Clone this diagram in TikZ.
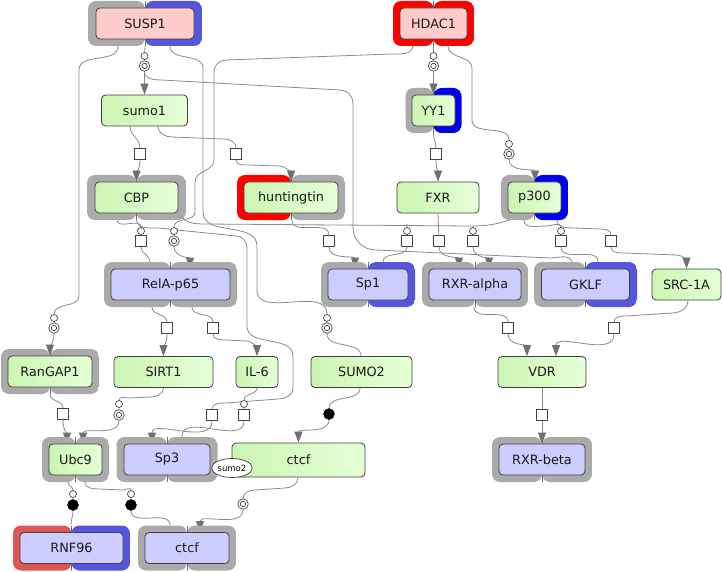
\documentclass[tikz,border=0pt]{standalone}
\usepackage{fontspec}
\setmainfont{DejaVu Sans}
\usetikzlibrary{arrows.meta,backgrounds,shapes.geometric}
\definecolor{cgray}{HTML}{AAAAAA}
\definecolor{cblue}{HTML}{5555DD}
\definecolor{cbblue}{HTML}{0000EE}
\definecolor{cred}{HTML}{FF0000}
\definecolor{crose}{HTML}{DD5555}
\definecolor{cpink}{HTML}{FFCCCC}
\definecolor{clav}{HTML}{CCCCFF}
\definecolor{cgreenA}{HTML}{CCF5B2}
\definecolor{cgreenB}{HTML}{E6FFD8}
\definecolor{cborder}{HTML}{404040}
\definecolor{cline}{HTML}{8A8A8A}
\definecolor{carrow}{HTML}{707070}
\definecolor{csplit}{HTML}{707070}
\definecolor{cglyph}{HTML}{444444}
\tikzset{
  entity/.style={rounded corners=4pt, draw=cborder, line width=0.8pt, minimum height=31pt, inner sep=0pt, font=\fontsize{12.8}{15}\selectfont, text=black!90},
  gnode/.style={entity, left color=cgreenA, right color=cgreenB},
  lnode/.style={entity, fill=clav},
  pnode/.style={entity, fill=cpink},
  cplx/.style 2 args={rounded corners=8pt, minimum height=45pt, inner sep=0pt,
    path picture={
      \fill[#1] (path picture bounding box.south west) rectangle (path picture bounding box.north);
      \fill[#2] (path picture bounding box.south) rectangle (path picture bounding box.north east);
      \draw[csplit, line width=0.8pt] (path picture bounding box.south) -- (path picture bounding box.north);
    }},
  proc/.style={rectangle, draw=cglyph, fill=white, line width=0.7pt, minimum size=11.5pt, inner sep=0pt},
  ocirc/.style={circle, draw=cglyph, fill=white, line width=0.7pt, minimum size=7pt, inner sep=0pt},
  dcirc/.style={circle, draw=cglyph, fill=white, line width=0.7pt, minimum size=10.5pt, inner sep=0pt,
    path picture={\draw[cglyph, line width=0.7pt] (path picture bounding box.center) circle (2.7pt);}},
  bcirc/.style={circle, draw=black, fill=black, minimum size=11pt, inner sep=0pt},
  conn/.style={draw=cline, line width=0.8pt},
  arr/.style={conn, -{Triangle[width=8pt,length=11pt,color=carrow]}},
}
\begin{document}
\begin{tikzpicture}[x=1pt,y=-1pt]
\useasboundingbox (0,0) rectangle (722,572);
% entities
\node[cplx={cgray}{cblue}, minimum width=114pt] (susp1o) at (145,23.5) {};
\node[pnode, minimum width=98pt] (susp1) at (145,23.5) {SUSP1};
\node[cplx={cred}{cred}, minimum width=81pt] (hdac1o) at (433.5,23.5) {};
\node[pnode, minimum width=67pt] (hdac1) at (433.5,23.5) {HDAC1};
\node[gnode, minimum width=86pt] (sumo1) at (144.5,110.5) {sumo1};
\node[cplx={cgray}{cbblue}, minimum width=56pt] (yy1o) at (433.5,110.5) {};
\node[gnode, minimum width=43pt] (yy1) at (433.5,110.5) {YY1};
\node[cplx={cgray}{cgray}, minimum width=99pt] (cbpo) at (136.5,197.5) {};
\node[gnode, minimum width=83pt] (cbp) at (136.5,197.5) {CBP};
\node[cplx={cred}{cgray}, minimum width=108pt] (huntingtino) at (291,197.5) {};
\node[gnode, minimum width=94pt] (huntingtin) at (291,197.5) {huntingtin};
\node[gnode, minimum width=82pt] (fxr) at (438,197.5) {FXR};
\node[cplx={cgray}{cbblue}, minimum width=67pt] (p300o) at (534.5,197.5) {};
\node[gnode, minimum width=53pt] (p300) at (534.5,197.5) {p300};
\node[cplx={cgray}{cgray}, minimum width=133pt] (relapo) at (170.5,284.5) {};
\node[lnode, minimum width=119pt] (relap) at (170.5,284.5) {RelA-p65};
\node[cplx={cgray}{cblue}, minimum width=94pt] (sp1o) at (368,284.5) {};
\node[lnode, minimum width=80pt] (sp1) at (368,284.5) {Sp1};
\node[cplx={cgray}{cgray}, minimum width=106pt] (rxrao) at (475,284.5) {};
\node[lnode, minimum width=92pt] (rxra) at (475,284.5) {RXR-alpha};
\node[cplx={cgray}{cblue}, minimum width=103pt] (gklfo) at (585.5,284.5) {};
\node[lnode, minimum width=88pt] (gklf) at (585.5,284.5) {GKLF};
\node[gnode, minimum width=69pt] (src) at (686.5,284.5) {SRC-1A};
\node[cplx={cgray}{cgray}, minimum width=98pt] (rangapo) at (50,371.5) {};
\node[gnode, minimum width=84pt] (rangap) at (50,371.5) {RanGAP1};
\node[gnode, minimum width=99pt] (sirt1) at (163.5,372) {SIRT1};
\node[gnode, minimum width=42pt] (il6) at (257,372) {IL-6};
\node[gnode, minimum width=101pt] (sumo2) at (361.5,372) {SUMO2};
\node[gnode, minimum width=88pt] (vdr) at (542,372) {VDR};
\node[cplx={cgray}{cgray}, minimum width=67pt] (ubc9o) at (75.5,459.5) {};
\node[gnode, minimum width=53pt] (ubc9) at (75.5,459.5) {Ubc9};
\node[cplx={cgray}{cgray}, minimum width=101pt] (sp3o) at (167,459.5) {};
\node[lnode, minimum width=86pt] (sp3) at (167,459.5) {Sp3};
\node[gnode, minimum width=133pt, minimum height=34pt] (ctcfg) at (298.5,460) {ctcf};
\node[ellipse, draw=cborder, fill=white, line width=0.7pt, minimum width=38pt, minimum height=19pt, inner sep=0pt, font=\fontsize{8.5}{10}\selectfont] (sumo2tag) at (232,468) {sumo2};
\node[cplx={cgray}{cgray}, minimum width=100pt] (rxrbo) at (542,459.5) {};
\node[lnode, minimum width=86pt] (rxrb) at (542,459.5) {RXR-beta};
\node[cplx={crose}{cblue}, minimum width=117pt] (rnf96o) at (71.5,548) {};
\node[lnode, minimum width=103pt] (rnf96) at (71.5,548) {RNF96};
\node[cplx={cgray}{cgray}, minimum width=98pt] (ctcflo) at (187,548) {};
\node[lnode, minimum width=84pt] (ctcfl) at (187,548) {ctcf};
% glyphs
\node[ocirc] (cA) at (144.5,56) {};
\node[dcirc] (dA) at (144.5,66) {};
\node[ocirc] (cC) at (54,318) {};
\node[dcirc] (dC) at (54,328) {};
\node[ocirc] (cD) at (327,318) {};
\node[dcirc] (dD) at (327,328) {};
\node[ocirc] (cE) at (433.5,56) {};
\node[dcirc] (dE) at (433.5,66) {};
\node[ocirc] (cF) at (509,144) {};
\node[dcirc] (dF) at (509,154) {};
\node[ocirc] (cG) at (174,231) {};
\node[dcirc] (dG) at (174,241) {};
\node[proc] (sH) at (140,154) {};
\node[proc] (sI) at (236,154) {};
\node[proc] (sJ) at (436,154) {};
\node[ocirc] (cK) at (141,231) {};
\node[proc] (sK) at (141,241) {};
\node[proc] (sL) at (212,415) {};
\node[ocirc] (cM1) at (407,231) {};
\node[proc] (sM1) at (407,241) {};
\node[ocirc] (cM2) at (473,231) {};
\node[proc] (sM2) at (473,241) {};
\node[ocirc] (cM3) at (561,231) {};
\node[proc] (sM3) at (561,241) {};
\node[proc] (sN) at (329,241) {};
\node[proc] (sO) at (439,241) {};
\node[proc] (sP) at (611,241) {};
\node[proc] (sQ) at (167,328) {};
\node[proc] (sR) at (213,328) {};
\node[proc] (sS) at (508,328) {};
\node[proc] (sT) at (614,328) {};
\node[proc] (sU) at (63,414) {};
\node[ocirc] (cV) at (119,404) {};
\node[dcirc] (dV) at (119,415) {};
\node[ocirc] (cW) at (244,404) {};
\node[proc] (sW) at (244,415) {};
\node[bcirc] (bX) at (329,414) {};
\node[proc] (sY) at (542,415) {};
\node[ocirc] (cZ) at (73,494) {};
\node[bcirc] (bZ) at (73,505) {};
\node[ocirc] (cAA) at (131,494) {};
\node[bcirc] (bAA) at (131,505) {};
\node[dcirc] (dAB) at (243,504) {};
\begin{pgfonlayer}{background}
\fill[white] (0,0) rectangle (722,572);
% SUSP1
\draw[arr] (susp1o.south) -- (cA) -- (dA) -- (sumo1.north);
\draw[conn] (dA) to[out=-90,in=180] (162,80) -- (340,90) to[out=0,in=90] (353,103) -- (353,228) to[out=-90,in=180] (376,250) -- (550,258) to[out=0,in=110] (572,0 |- gklfo.north);
\draw[arr] (118,0 |- susp1o.south) to[out=-90,in=90] (79,70) -- (79,296) to[out=-90,in=90] (cC) -- (dC) to[out=-90,in=90] (50,0 |- rangap.north);
\draw[conn] (170,0 |- susp1o.south) to[out=-90,in=90] (203,68) -- (203,212) to[out=-90,in=90] (257,246) -- (257,290) to[out=-90,in=90] (cD) -- (dD) to[out=-90,in=90] (361,0 |- sumo2.north);
% HDAC1
\draw[arr] (hdac1o.south) -- (cE) -- (dE) -- (yy1.north);
\draw[arr] (448,0 |- hdac1o.south) to[out=-90,in=90] (472,68) -- (472,120) to[out=-90,in=90] (cF) -- (dF) to[out=-90,in=90] (535,0 |- p300.north);
\draw[arr] (413,0 |- hdac1o.south) to[out=-100,in=0] (392,54) -- (226,60) to[out=180,in=90] (214,72) -- (214,160) to[out=-90,in=90] (195,182) -- (195,212) to[out=-90,in=90] (cG) -- (dG) to[out=-90,in=90] (190,0 |- relap.north);
% sumo1
\draw[arr] (130,0 |- sumo1.south) to[out=-90,in=90] (sH) to[out=-90,in=90] (cbp.north);
\draw[arr] (158,0 |- sumo1.south) to[out=-90,in=180] (172,137) -- (224,139) to[out=0,in=90] (sI) to[out=-90,in=180] (249,165) -- (279,166) to[out=0,in=90] (huntingtin.north);
% YY1
\draw[arr] (yy1o.south) to[out=-90,in=90] (sJ) to[out=-90,in=90] (fxr.north);
% CBP
\draw[conn] (117,0 |- cbpo.south) to[out=-90,in=90] (cK) -- (sK) to[out=-90,in=90] (150,0 |- relapo.north);
\draw[arr] (cbpo.south) to[out=-80,in=180] (158,228) -- (236,236) to[out=0,in=90] (247,248) -- (247,326) to[out=-90,in=90] (293,356) -- (293,388) to[out=-90,in=0] (278,399) -- (226,403) to[out=180,in=90] (sL) to[out=-90,in=90] (152,0 |- sp3.north);
\draw[conn] (180,0 |- cbp.south) to[out=-70,in=180] (205,224) -- (470,226) to[out=0,in=200] (512,219);
\draw[conn] (407,224) -- (cM1) -- (sM1) to[out=-90,in=90] (383,0 |- sp1o.north);
\draw[arr] (473,226) -- (cM2) -- (sM2) to[out=-90,in=90] (489,0 |- rxra.north);
% p300
\draw[conn] (524,0 |- p300o.south) to[out=-90,in=180] (546,226) to[out=0,in=90] (cM3) -- (sM3) to[out=-90,in=90] (598,0 |- gklfo.north);
\draw[arr] (557,0 |- p300o.south) to[out=-90,in=180] (574,228) -- (600,229) to[out=0,in=90] (sP) to[out=-90,in=180] (624,253) -- (677,255) to[out=0,in=90] (src.north);
% huntingtin, FXR
\draw[arr] (292,0 |- huntingtino.south) to[out=-90,in=90] (sN) to[out=-90,in=90] (355,0 |- sp1.north);
\draw[arr] (fxr.south) -- (sO) to[out=-90,in=90] (459,0 |- rxra.north);
% RelA-p65
\draw[arr] (152,0 |- relapo.south) to[out=-90,in=90] (sQ) to[out=-90,in=90] (sirt1.north);
\draw[arr] (192,0 |- relapo.south) to[out=-90,in=90] (sR) to[out=-90,in=180] (226,340) -- (246,341) to[out=0,in=90] (il6.north);
% RXR-alpha, SRC-1A
\draw[arr] (474,0 |- rxrao.south) to[out=-90,in=90] (sS) to[out=-90,in=90] (527,0 |- vdr.north);
\draw[arr] (688,0 |- src.south) to[out=-90,in=0] (672,313) -- (626,316) to[out=180,in=90] (sT) to[out=-90,in=90] (556,0 |- vdr.north);
% RanGAP1, SIRT1, IL-6, SUMO2, VDR
\draw[arr] (50,0 |- rangapo.south) to[out=-90,in=90] (sU) to[out=-90,in=90] (67,0 |- ubc9.north);
\draw[arr] (sirt1.south) to[out=-90,in=0] (150,397) -- (130,398) to[out=180,in=90] (cV) -- (dV) to[out=-90,in=90] (83,0 |- ubc9.north);
\draw[conn] (il6.south) to[out=-90,in=90] (cW) -- (sW) to[out=-90,in=90] (182,0 |- sp3o.north);
\draw[arr] (360,0 |- sumo2.south) to[out=-90,in=90] (bX) to[out=-90,in=90] (ctcfg.north);
\draw[arr] (vdr.south) -- (sY) -- (rxrb.north);
% Ubc9, ctcf
\draw[conn] (68,0 |- ubc9o.south) to[out=-90,in=90] (cZ) -- (bZ) to[out=-90,in=90] (71,0 |- rnf96o.north);
\draw[conn] (85,0 |- ubc9o.south) to[out=-90,in=180] (100,489) -- (122,490) to[out=0,in=90] (cAA) -- (bAA) to[out=-90,in=90] (170,0 |- ctcflo.north);
\draw[arr] (298,0 |- ctcfg.south) to[out=-90,in=0] (285,488) -- (255,490) to[out=180,in=90] (dAB) to[out=-90,in=90] (200,0 |- ctcfl.north);
\end{pgfonlayer}
\end{tikzpicture}
\end{document}
